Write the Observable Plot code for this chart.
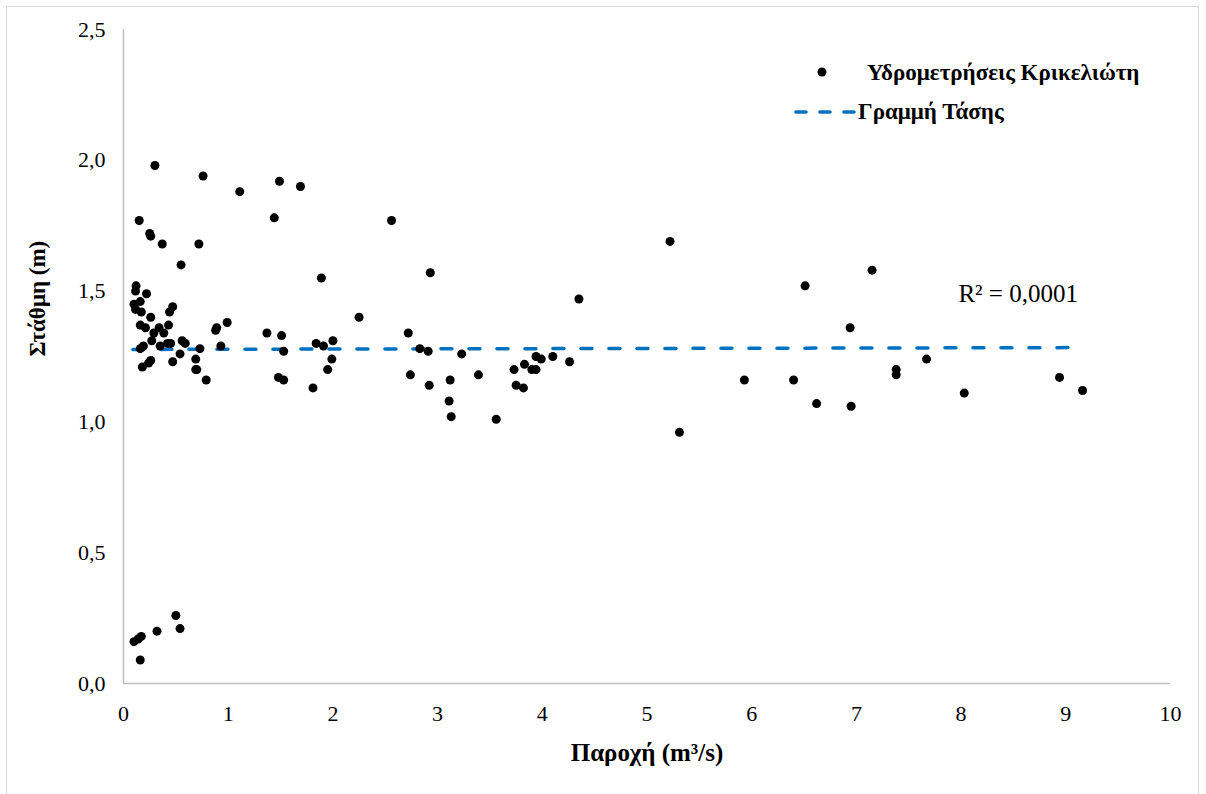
<!DOCTYPE html>
<html>
<head>
<meta charset="utf-8">
<script src="https://cdn.jsdelivr.net/npm/d3@7"></script>
<script src="https://cdn.jsdelivr.net/npm/@observablehq/plot@0.6"></script>
<style>
  body { margin: 0; background: #fff; }
  #wrap { position: relative; width: 1206px; height: 794px; overflow: hidden; font-family: "Liberation Serif", "Times New Roman", serif; }
  #border { position: absolute; left: 6px; top: 6px; width: 1193px; height: 800px; border: 1px solid #d9d9d9; box-sizing: border-box; }
  #chart { position: absolute; left: 0; top: 0; }
  #legend { position: absolute; left: 0; top: 0; }
</style>
</head>
<body>
<div id="wrap">
  <div id="border"></div>
  <div id="chart"></div>
  <svg id="legend" width="1206" height="794"></svg>
</div>
<script>
// Discharge (m3/s) and stage (m) of each measurement
const discharge = [
  0.10, 0.14, 0.17, 0.32, 0.50, 0.54, 0.16,
  0.30, 0.76, 1.11, 1.49, 1.69, 0.15, 0.25, 0.26, 0.37, 0.72, 1.44, 0.55, 1.89,
  0.12, 0.115, 0.22, 0.16, 0.10, 0.115, 0.17, 0.26, 0.47, 0.44, 0.16, 0.21, 0.43,
  0.34, 0.29, 0.385, 0.99, 0.89, 0.88, 1.37, 1.51, 0.27, 0.56, 0.59, 0.45, 0.35,
  0.42, 0.19, 0.16, 0.73, 0.93, 1.84, 1.91, 2.00, 1.53, 0.54, 0.69, 1.99, 0.26,
  0.24, 0.47, 0.18, 0.69, 0.70, 1.95, 0.79, 1.48, 1.53, 1.81,
  2.25, 2.56, 5.22, 2.93, 4.35, 2.72, 2.83, 2.91, 3.23, 2.74, 3.12, 3.39, 2.92,
  3.11, 3.13, 3.56, 3.73, 3.75, 3.82, 3.83, 3.90, 3.94, 3.94, 3.99, 4.10, 4.26,
  5.31, 5.93, 6.40,
  6.51, 7.15, 6.94, 6.62, 6.95, 7.38, 7.38, 7.67, 8.03, 8.94, 9.16
];
const stage = [
  0.16, 0.17, 0.18, 0.20, 0.26, 0.21, 0.09,
  1.98, 1.94, 1.88, 1.92, 1.90, 1.77, 1.72, 1.71, 1.68, 1.68, 1.78, 1.60, 1.55,
  1.52, 1.50, 1.49, 1.46, 1.45, 1.43, 1.42, 1.40, 1.44, 1.42, 1.37, 1.36, 1.37,
  1.36, 1.34, 1.34, 1.38, 1.36, 1.35, 1.34, 1.33, 1.31, 1.31, 1.30, 1.30, 1.29,
  1.30, 1.29, 1.28, 1.28, 1.29, 1.30, 1.29, 1.31, 1.27, 1.26, 1.24, 1.24, 1.235,
  1.225, 1.23, 1.21, 1.20, 1.20, 1.20, 1.16, 1.17, 1.16, 1.13,
  1.40, 1.77, 1.69, 1.57, 1.47, 1.34, 1.28, 1.27, 1.26, 1.18, 1.16, 1.18, 1.14,
  1.08, 1.02, 1.01, 1.20, 1.14, 1.13, 1.22, 1.20, 1.20, 1.25, 1.24, 1.25, 1.23,
  0.96, 1.16, 1.16,
  1.52, 1.58, 1.36, 1.07, 1.06, 1.20, 1.18, 1.24, 1.11, 1.17, 1.12
];
// Trend line end points
const trendX = [0.09, 9.06];
const trendY = [1.277, 1.284];
// Axes
const xTicks = [0, 1, 2, 3, 4, 5, 6, 7, 8, 9, 10];
const yTicks = [0, 0.5, 1, 1.5, 2, 2.5];
const yTickLabels = ["0,0", "0,5", "1,0", "1,5", "2,0", "2,5"];
const xTitle = "Παροχή (m³/s)";
const yTitle = "Στάθμη (m)";
const seriesNames = ["Υδρομετρήσεις Κρικελιώτη", "Γραμμή Τάσης"];
const r2Label = ["R² = 0,0001"];
const r2X = [8.545];
const r2Y = [1.49];

const points = discharge.map((x, i) => ({x, y: stage[i]}));
const trend = trendX.map((x, i) => ({x, y: trendY[i]}));
const r2 = r2Label.map((t, i) => ({t, x: r2X[i], y: r2Y[i]}));
const blue = "#0070C0";
const serif = "'Liberation Serif', 'Times New Roman', serif";

const chart = Plot.plot({
  width: 1206,
  height: 794,
  marginLeft: 123,
  marginRight: 36,
  marginTop: 29,
  marginBottom: 111,
  style: {fontFamily: serif, fontSize: "22px", color: "#000", background: "transparent", overflow: "visible"},
  x: {domain: [0, 10]},
  y: {domain: [0, 2.5]},
  marks: [
    Plot.axisX({ticks: xTicks, tickSize: 0, tickPadding: 22, label: null, tickFormat: d => String(d), fontSize: 22}),
    Plot.axisY({ticks: yTicks, tickSize: 0, tickPadding: 18, label: null, tickFormat: d => yTickLabels[yTicks.indexOf(d)], fontSize: 22}),
    Plot.ruleY([0], {stroke: "#bfbfbf", strokeWidth: 1.5}),
    Plot.ruleX([0], {stroke: "#bfbfbf", strokeWidth: 1.5}),
    Plot.line(trend, {x: "x", y: "y", stroke: blue, strokeWidth: 3.5, strokeDasharray: "11,17", strokeLinecap: "round"}),
    Plot.dot(points, {x: "x", y: "y", r: 4.5, fill: "#000", stroke: null}),
    Plot.text(r2, {x: "x", y: "y", text: "t", fontSize: 25, fill: "#000"}),
    Plot.text([xTitle], {frameAnchor: "bottom", dy: 77, fontWeight: "bold", fontSize: 25, fill: "#000"}),
    Plot.text([yTitle], {frameAnchor: "left", dx: -86, rotate: -90, fontWeight: "bold", fontSize: 23, fill: "#000"})
  ]
});
document.getElementById("chart").appendChild(chart);

// Legend
const lg = d3.select("#legend");
lg.append("circle").attr("cx", 822).attr("cy", 72).attr("r", 4.5).attr("fill", "#000");
lg.append("text").attr("x", 867).attr("y", 80).attr("font-weight", "bold").attr("font-size", 23)
  .attr("font-family", serif).text(seriesNames[0]);
lg.append("line").attr("x1", 796).attr("x2", 854).attr("y1", 112).attr("y2", 112)
  .attr("stroke", blue).attr("stroke-width", 3.5).attr("stroke-dasharray", "10,14").attr("stroke-linecap", "round");
lg.append("text").attr("x", 858).attr("y", 119).attr("font-weight", "bold").attr("font-size", 23)
  .attr("font-family", serif).text(seriesNames[1]);
</script>
</body>
</html>
